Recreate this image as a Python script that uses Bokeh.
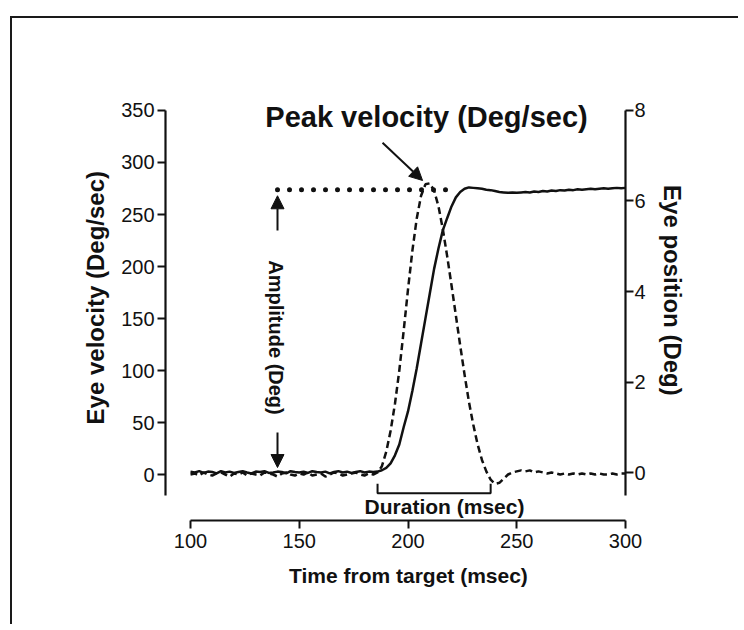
import math
from bokeh.plotting import figure
from bokeh.models import Range1d, LinearAxis, Label, Arrow, NormalHead, FixedTicker
from bokeh.embed import file_html
from bokeh.resources import INLINE

# ---------------- data ----------------
time_ms = list(range(100, 302, 2))

eye_velocity = [
    0, 1, -1, 2, 0, -1, 1, 2, 0, -2, 1, 0, 2, -1, 1, 0, -1, 2, 1, 0, -2, 1,
    2, 0, -1, 1, 0, 2, -1, 0, 1, -2, 0, 2, 1, -1, 0, 1, 2, 0, -1, 1, 0,
    2, 8, 22, 42, 68, 100, 138, 178, 215, 246, 268, 279, 280, 273, 258, 236,
    210, 182, 153, 124, 96, 70, 48, 29, 14, 3, -5,
    -9, -8, -4, 0, 2, 3, 4, 3, 4, 2, 3, 2, 1, 2, 1, 0, 1, 0, 1, 0, 1, 0, 1,
    0, 1, 0, 0, 1, 0, 1, 1,
]

eye_position = [
    0.02, 0.0, 0.03, -0.01, 0.02, 0.01, -0.02, 0.03, 0.0, 0.02, -0.01, 0.01,
    0.03, 0.0, -0.02, 0.02, 0.01, 0.03, -0.01, 0.0, 0.02, 0.01, -0.02, 0.03,
    0.01, 0.0, 0.02, -0.01, 0.03, 0.01, 0.0, 0.02, -0.02, 0.01, 0.03, 0.0,
    0.02, -0.01, 0.01, 0.03, 0.0, 0.02, 0.01,
    0.02, 0.05, 0.1, 0.2, 0.38, 0.62, 1.0, 1.35, 1.8, 2.3, 2.85, 3.4, 3.95,
    4.5, 4.95, 5.35, 5.62, 5.88, 6.08, 6.2, 6.27, 6.3, 6.29, 6.28, 6.27, 6.25,
    6.24,
    6.22, 6.2, 6.19, 6.18, 6.19, 6.18, 6.19, 6.2, 6.19, 6.21, 6.2, 6.22, 6.21,
    6.23, 6.22, 6.24, 6.23, 6.25, 6.24, 6.26, 6.25, 6.26, 6.27, 6.26, 6.27,
    6.28, 6.27, 6.28, 6.29, 6.28, 6.29,
]

x_ticks = [100, 150, 200, 250, 300]
velocity_ticks = [0, 50, 100, 150, 200, 250, 300, 350]
position_ticks = [0, 2, 4, 6, 8]

amplitude_level = [6.25, 6.25]          # Deg (right axis)
amplitude_span = [140, 222]             # msec, dotted line extent
duration_span = [186, 238]              # msec
peak_velocity_point = [206.7, 282.7]    # (msec, Deg/sec) arrow tip

FONT = "Liberation Sans"
INK = "#111111"

# ---------------- figure ----------------
# The frame covers the whole canvas; axes are pinned with fixed_location
p = figure(
    width=728, height=608,
    output_backend="svg", toolbar_location=None,
    x_range=Range1d(18.16, 352.87), y_range=Range1d(-146.15, 438.46),
    min_border_left=0, min_border_right=0, min_border_top=0, min_border_bottom=0,
    x_axis_type=None, y_axis_type=None,
)
p.extra_y_ranges = {"pos": Range1d(-3.403, 10.033)}
p.outline_line_color = None
p.background_fill_color = "white"
p.border_fill_color = "white"
p.title.visible = False
p.styles = {
    "margin-left": "10px", "margin-top": "16px",
    "border-left": "2px solid #1a1a1a", "border-top": "2px solid #1a1a1a",
}

def style_axis(ax, standoff):
    ax.axis_line_width = 2.2
    ax.axis_line_color = INK
    ax.major_tick_line_width = 2
    ax.major_tick_line_color = INK
    ax.major_tick_out = 8
    ax.major_tick_in = 0
    ax.minor_tick_out = 0
    ax.minor_tick_in = 0
    ax.major_label_text_font = FONT
    ax.major_label_text_font_size = "20px"
    ax.major_label_text_color = INK
    ax.major_label_standoff = standoff

xaxis = LinearAxis(ticker=FixedTicker(ticks=x_ticks), bounds=(100, 300),
                   fixed_location=-44.23)
style_axis(xaxis, 5)
p.add_layout(xaxis, "below")

yaxis = LinearAxis(ticker=FixedTicker(ticks=velocity_ticks), bounds=(-20, 350),
                   fixed_location=88.51)
style_axis(yaxis, 3)
p.add_layout(yaxis, "left")

raxis = LinearAxis(y_range_name="pos", ticker=FixedTicker(ticks=position_ticks),
                   bounds=(-0.5, 8), fixed_location=300)
style_axis(raxis, 1)
p.add_layout(raxis, "right")

# ---------------- traces ----------------
p.line(time_ms, eye_position, y_range_name="pos", line_color=INK, line_width=2.5)
p.line(time_ms, eye_velocity, line_color=INK, line_width=2.5, line_dash="7 4")

# amplitude dotted line
p.line(amplitude_span, amplitude_level, y_range_name="pos", line_color=INK,
       line_width=5, line_dash="0 12", line_cap="round")

# duration bracket
p.line([duration_span[0], duration_span[0], duration_span[1], duration_span[1]],
       [-9, -18, -18, -9], line_color=INK, line_width=2)

# arrows
def arrow(x0, y0, x1, y1):
    p.add_layout(Arrow(end=NormalHead(size=13, fill_color=INK, line_color=INK),
                       x_start=x0, y_start=y0, x_end=x1, y_end=y1,
                       line_color=INK, line_width=2))

arrow(amplitude_span[0], 234.6, amplitude_span[0], 268)
arrow(amplitude_span[0], 40.4, amplitude_span[0], 6.7)
arrow(188.3, 319, peak_velocity_point[0], peak_velocity_point[1])

# ---------------- texts ----------------
def label(x, y, text, size, angle=0.0, bold=True):
    p.add_layout(Label(x=x, y=y, text=text, angle=angle,
                       text_font=FONT, text_font_size=size,
                       text_font_style="bold" if bold else "normal",
                       text_color=INK, text_align="center",
                       text_baseline="middle"))

label(208.5, 343.3, "Peak velocity (Deg/sec)", "29px")
label(139.1, 131.7, "Amplitude (Deg)", "20px", angle=-math.pi / 2)
label(216.8, -30.8, "Duration (msec)", "21px")
label(200.2, -97.1, "Time from target (msec)", "21px")
label(56.3, 170, "Eye velocity (Deg/sec)", "24px", angle=math.pi / 2)
label(321.6, 177, "Eye position (Deg)", "24px", angle=-math.pi / 2)

open("out.html", "w").write(file_html(p, INLINE))
